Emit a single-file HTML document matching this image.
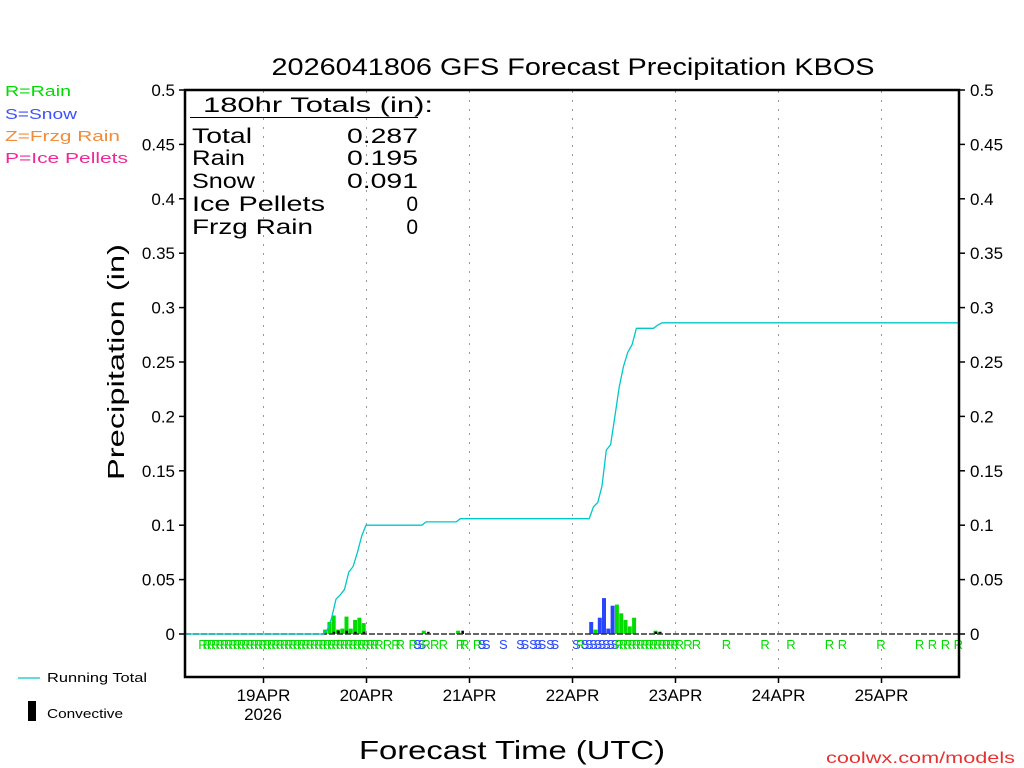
<!DOCTYPE html>
<html><head><meta charset="utf-8"><style>
html,body{margin:0;padding:0;background:#fff;width:1024px;height:768px;overflow:hidden}
svg{display:block}
text{font-family:"Liberation Sans","DejaVu Sans",sans-serif}
</style></head><body>
<svg id="chart" width="1024" height="768" viewBox="0 0 1024 768">
<g id="grid"></g>
<g id="bars"></g>
<g id="labels"></g>
<g id="axes"></g>
<text x="573" y="75" font-size="24" text-anchor="middle" textLength="603" lengthAdjust="spacingAndGlyphs" fill="#000">2026041806 GFS Forecast Precipitation KBOS</text>
<text transform="translate(124,362) rotate(-90)" font-size="23" text-anchor="middle" textLength="236" lengthAdjust="spacingAndGlyphs">Precipitation (in)</text>
<text x="512" y="759" font-size="26" text-anchor="middle" textLength="306" lengthAdjust="spacingAndGlyphs">Forecast Time (UTC)</text>
<text x="1015" y="763" font-size="16" text-anchor="end" fill="#e83030" textLength="189" lengthAdjust="spacingAndGlyphs">coolwx.com/models</text>
<g font-size="15" lengthAdjust="spacingAndGlyphs">
<text x="5" y="96" fill="#00dc00" textLength="66" lengthAdjust="spacingAndGlyphs">R=Rain</text>
<text x="5" y="119" fill="#3c50ff" textLength="72" lengthAdjust="spacingAndGlyphs">S=Snow</text>
<text x="5" y="141" fill="#f08c3c" textLength="115" lengthAdjust="spacingAndGlyphs">Z=Frzg Rain</text>
<text x="5" y="163" fill="#f0289c" textLength="123" lengthAdjust="spacingAndGlyphs">P=Ice Pellets</text>
</g>
<g>
<line x1="18" y1="678" x2="40" y2="678" stroke="#00c8c8" stroke-width="1.2"/>
<text x="47" y="682" font-size="13" textLength="100" lengthAdjust="spacingAndGlyphs">Running Total</text>
<rect x="28" y="701" width="8" height="20" fill="#000"/>
<text x="47" y="718" font-size="13" textLength="76" lengthAdjust="spacingAndGlyphs">Convective</text>
</g>
<g font-size="21">
<text x="203" y="112" textLength="230" lengthAdjust="spacingAndGlyphs">180hr Totals (in):</text>
<line x1="190" y1="117.5" x2="418" y2="117.5" stroke="#000" stroke-width="1"/>
<text x="192" y="143" textLength="60" lengthAdjust="spacingAndGlyphs">Total</text><text x="347" y="143" textLength="71" lengthAdjust="spacingAndGlyphs">0.287</text>
<text x="192" y="165" textLength="53" lengthAdjust="spacingAndGlyphs">Rain</text><text x="347" y="165" textLength="71" lengthAdjust="spacingAndGlyphs">0.195</text>
<text x="192" y="188" textLength="63" lengthAdjust="spacingAndGlyphs">Snow</text><text x="347" y="188" textLength="71" lengthAdjust="spacingAndGlyphs">0.091</text>
<text x="192" y="211" textLength="133" lengthAdjust="spacingAndGlyphs">Ice Pellets</text><text x="418" y="211" text-anchor="end">0</text>
<text x="192" y="234" textLength="121" lengthAdjust="spacingAndGlyphs">Frzg Rain</text><text x="418" y="234" text-anchor="end">0</text>
</g>
</svg>
<script>
// data
const yTicks = [0,0.05,0.1,0.15,0.2,0.25,0.3,0.35,0.4,0.45,0.5];
const yTickLabels = ["0","0.05","0.1","0.15","0.2","0.25","0.3","0.35","0.4","0.45","0.5"];
const dayHours = [18,42,66,90,114,138,162];
const dayLabels = ["19APR","20APR","21APR","22APR","23APR","24APR","25APR"];
// precipitation steps (forecast hour, amount in inches, type)
const precipHours = [32,33,34,35,36,37,38,39,40,41,55,63,94,95,96,97,98,99,100,101,102,103,104,109,110];
const precipAmounts = [0.004,0.011,0.017,0.004,0.005,0.016,0.005,0.013,0.015,0.010,0.003,0.003,0.011,0.004,0.015,0.033,0.005,0.026,0.027,0.019,0.013,0.007,0.015,0.003,0.002];
const precipTypes = ["R","R","R","R","R","R","R","R","R","R","R","R","S","R","S","S","S","S","R","R","R","R","R","R","R"];
const convHours = [34,35,37,39,41,56,64,109,110];
const convAmounts = [0.002,0.003,0.003,0.002,0.002,0.002,0.003,0.002,0.002];
const labelHours = [4,5,6,7,8,9,10,11,12,13,14,15,16,17,18,19,20,21,22,23,24,25,26,27,28,29,30,31,32,33,34,35,36,37,38,39,40,41,42,43,44,45,47,49,50,53,54,55,56,58,60,64,65,68,69,70,74,78,79,81,82,83,85,86,91,92,93,94,95,96,97,98,99,100,101,102,103,104,105,106,107,108,109,110,111,112,113,114,115,117,119,126,135,141,150,153,162,171,174,177,180];
const labelTypes = "RRRRRRRRRRRRRRRRRRRRRRRRRRRRRRRRRRRRRRRRRRRRRRSSRRRRRRSSSSSSSSSSSRSSSSSSSSRRRRRRRRRRRRRRRRRRRRRRRRRRRRRR".split("");

const NS="http://www.w3.org/2000/svg";
const X0=185.75, PXH=103/24, Y0=634, PXI=1088;
const xH=h=> X0+h*PXH;
const yV=v=> Y0-v*PXI;
const col={R:"#00dc00",S:"#2846ff",Z:"#f08c3c",P:"#f0289c"};
function mk(tag,attrs,parent){const e=document.createElementNS(NS,tag);for(const k in attrs)e.setAttribute(k,attrs[k]);parent.appendChild(e);return e;}
const grid=document.getElementById('grid'),bars=document.getElementById('bars'),labs=document.getElementById('labels'),axes=document.getElementById('axes');

dayHours.forEach((h,i)=>{
  const x=Math.round(xH(h))+0.5;
  const g=mk('line',{x1:x,y1:91,x2:x,y2:676,stroke:"#999","stroke-dasharray":"2,7","stroke-width":1},grid);
  
  
  const t=mk('line',{x1:x,y1:677,x2:x,y2:683,stroke:"#000","stroke-width":1.5},axes);
  
  
  const tx=mk('text',{x:x,y:701,"font-size":17,"text-anchor":"middle"},axes);
  tx.textContent=dayLabels[i];
  
  
});
const yr=mk('text',{x:Math.round(xH(dayHours[0])),y:720,"font-size":17,"text-anchor":"middle"},axes);
yr.textContent="2026";



precipHours.forEach((h,i)=>{
  const x=xH(h), y=yV(precipAmounts[i]);
  const r=mk('rect',{x:x.toFixed(1),y:y.toFixed(1),width:(PXH-0.3).toFixed(2),height:(Y0-y).toFixed(1),fill:col[precipTypes[i]]},bars);
  
  
});
convHours.forEach((h,i)=>{
  const x=xH(h)+1, y=yV(convAmounts[i]);
  const r=mk('rect',{x:x.toFixed(1),y:y.toFixed(1),width:2.5,height:(Y0-y).toFixed(1),fill:"#000"},bars);
  
  
});
const bl=mk('line',{x1:185,y1:Y0,x2:959,y2:Y0,stroke:"#333","stroke-width":1.5,"stroke-dasharray":"6,2"},bars);



let cum=0, pts=[[xH(0),yV(0)]];
const hourly={};precipHours.forEach((h,i)=>hourly[h]=(hourly[h]||0)+precipAmounts[i]);
for(let h=0;h<=180;h++){ if(hourly[h]){pts.push([xH(h),yV(cum)]);cum+=hourly[h];pts.push([xH(h+1),yV(cum)]);} }
pts.push([xH(180),yV(cum)]);
const pl=mk('polyline',{points:pts.map(p=>p[0].toFixed(1)+","+p[1].toFixed(1)).join(" "),fill:"none",stroke:"#00c8c8","stroke-width":1.3},bars);



labelHours.forEach((h,i)=>{
  const t=mk('text',{x:xH(h).toFixed(1),y:649,"font-size":13,"text-anchor":"middle",fill:col[labelTypes[i]]||col.R},labs);
  t.textContent=labelTypes[i]||"R";
  
  
});

const fr=mk('path',{d:"M185,90 H959 V677 H185 Z",fill:"none",stroke:"#000","stroke-width":2.5},axes);


yTicks.forEach((v,i)=>{
  const y=yV(v);
  const a=mk('line',{x1:179,y1:y,x2:185,y2:y,stroke:"#000","stroke-width":1.5},axes);
  
  
  const b=mk('line',{x1:959,y1:y,x2:965,y2:y,stroke:"#000","stroke-width":1.5},axes);
  
  
  const l=mk('text',{x:175,y:y+6,"font-size":17,"text-anchor":"end"},axes);
  l.textContent=yTickLabels[i];
  
  
  const r=mk('text',{x:970,y:y+6,"font-size":17},axes);
  r.textContent=yTickLabels[i];
  
  
});
</script>
</body></html>
